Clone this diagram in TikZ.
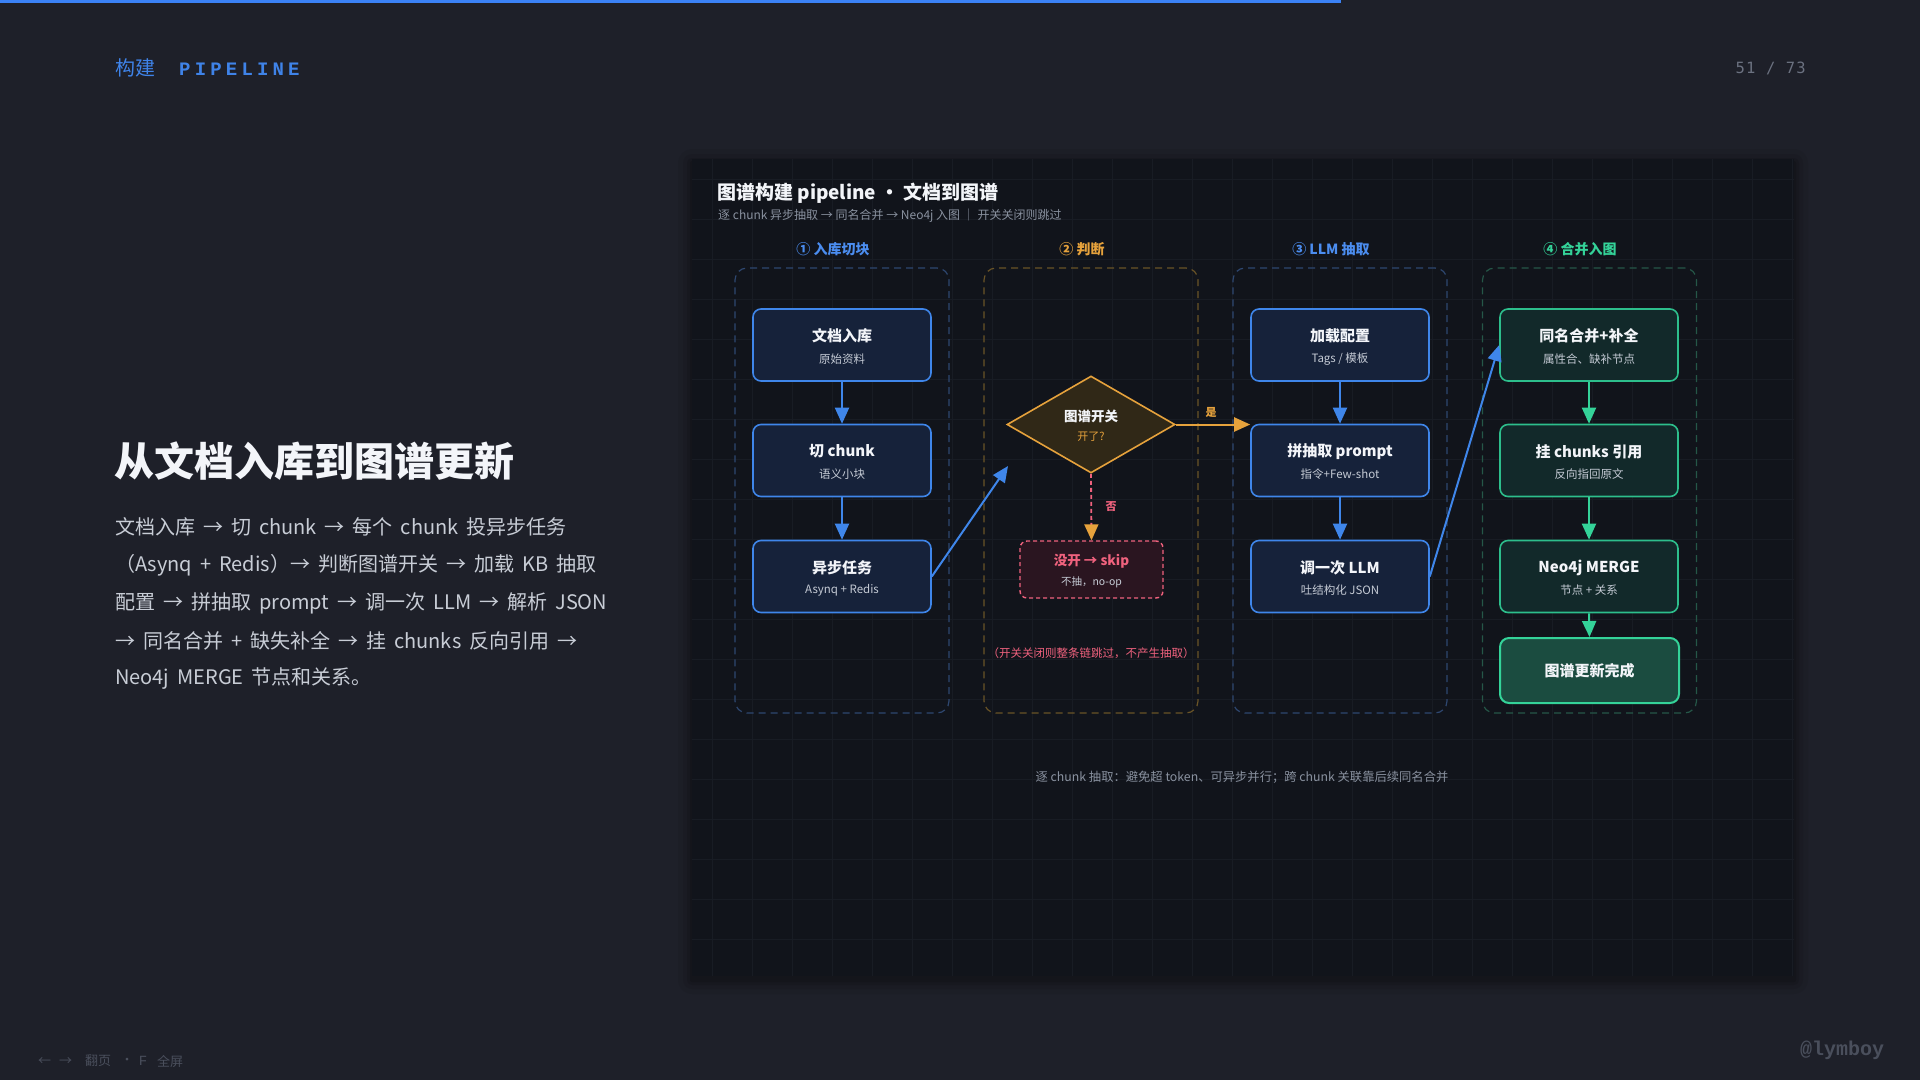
\documentclass[tikz,border=0pt]{standalone}
\usepackage{fontspec}
\setmainfont{Noto Sans CJK SC}
\newfontfamily\lmono{Liberation Mono}
\newfontfamily\spmono{Liberation Mono}[LetterSpace=22]
\newfontfamily\dmono{DejaVu Sans Mono}[LetterSpace=8]
\usetikzlibrary{arrows.meta,shapes.geometric,calc}

\definecolor{pagebg}{HTML}{1E2029}
\definecolor{panelbg}{HTML}{11141B}
\definecolor{gridc}{HTML}{181C24}
\definecolor{topbar}{HTML}{3B82F6}
\definecolor{hdrblue}{HTML}{3F83E8}
\definecolor{pgnum}{HTML}{6B7180}
\definecolor{footc}{HTML}{4A4F5C}
\definecolor{wtxt}{HTML}{F3F5F9}
\definecolor{bodytxt}{HTML}{C8CDD6}
\definecolor{subgray}{HTML}{8A92A0}
\definecolor{nsubc}{HTML}{C5CBD5}
\definecolor{blueacc}{HTML}{4B8DF0}
\definecolor{nodeblue}{HTML}{3F86EA}
\definecolor{bluefill}{HTML}{16223A}
\definecolor{grpblue}{HTML}{2E4770}
\definecolor{grporange}{HTML}{6A5427}
\definecolor{grpgreen}{HTML}{255748}
\definecolor{greenacc}{HTML}{34D399}
\definecolor{greenborder}{HTML}{2DBE8C}
\definecolor{greenfill}{HTML}{12292A}
\definecolor{finalfill}{HTML}{1B4C40}
\definecolor{orangeacc}{HTML}{E6A23C}
\definecolor{diafill}{HTML}{302817}
\definecolor{pinkacc}{HTML}{F0627E}
\definecolor{skipfill}{HTML}{2A1520}

\newcommand\fs[1]{\fontsize{#1}{#1}\selectfont}

\tikzset{
  grp/.style={draw=#1, dashed, dash pattern=on 7pt off 5pt, line width=1.2pt, rounded corners=12pt,
    minimum width=214pt, minimum height=445pt, inner sep=0pt},
  bluebox/.style={draw=nodeblue, fill=bluefill, line width=1.6pt, rounded corners=8pt,
    minimum width=178pt, minimum height=72pt, inner sep=0pt},
  greenbox/.style={draw=greenborder, fill=greenfill, line width=1.6pt, rounded corners=8pt,
    minimum width=178pt, minimum height=72pt, inner sep=0pt},
  finalbox/.style={draw=greenacc, fill=finalfill, line width=2pt, rounded corners=9pt,
    minimum width=179pt, minimum height=65pt, inner sep=0pt},
  ntitle/.style={text=wtxt, font=\fs{15}\bfseries, inner sep=0pt},
  nsub/.style={text=nsubc, font=\fs{11.5}, inner sep=0pt},
  colhead/.style={font=\fs{14}\bfseries, inner sep=0pt},
  barrow/.style={draw=nodeblue, line width=2pt, -{Triangle[length=16pt,width=14pt]}},
  garrow/.style={draw=greenacc, line width=2pt, -{Triangle[length=16pt,width=14pt]}},
  oarrow/.style={draw=orangeacc, line width=2pt, -{Triangle[length=16pt,width=14pt]}},
  bodyline/.style={anchor=west, text=bodytxt, font={\fs{20}\spaceskip=8pt plus 1pt}, inner sep=0pt},
}

\newcommand\flownode[6]{%
  \node[#2] (#1) at (#3,#4) {};
  \node[ntitle] (#1-t) at ([yshift=9pt]#1.center) {#5};
  \node[nsub] (#1-s) at ([yshift=-14pt]#1.center) {#6};
}

\begin{document}
\begin{tikzpicture}[x=1pt,y=-1pt]
\useasboundingbox (0,0) rectangle (1920,1080);
\fill[pagebg] (0,0) rectangle (1920,1080);
\fill[topbar] (0,0) rectangle (1341,3);

% header
\node[anchor=west, text=hdrblue, inner sep=0pt] (hdr) at (115,68)
  {{\fs{20}构建}\hspace{24pt}{\spmono\bfseries\fs{19}PIPELINE}};
\node[anchor=east, text=pgnum, inner sep=0pt] (pg) at (1806,68) {\dmono\fs{15.5}51 / 73};

% left column
\node[anchor=west, text=wtxt, font=\fs{40}\bfseries, inner sep=0pt] (lt) at (114,461) {从文档入库到图谱更新};
\node[bodyline] (b1) at (115,527) {文档入库 → 切 chunk → 每个 chunk 投异步任务};
\node[bodyline] (b2) at (115,565) {（Asynq + Redis）→ 判断图谱开关 → 加载 KB 抽取};
\node[bodyline] (b3) at (115,603) {配置 → 拼抽取 prompt → 调一次 LLM → 解析 JSON};
\node[bodyline] (b4) at (115,641) {→ 同名合并 + 缺失补全 → 挂 chunks 反向引用 →};
\node[bodyline] (b5) at (115,679) {Neo4j MERGE 节点和关系。};

% footer
\node[anchor=west, text=footc, font=\fs{13}, inner sep=0pt] (f1) at (38,1061) {←\hspace{8pt}→};
\node[anchor=west, text=footc, font=\fs{13}, inner sep=0pt] (f2) at (85,1061) {翻页};
\node[anchor=center, text=footc, font=\fs{13}, inner sep=0pt] (f3) at (127,1061) {·};
\node[anchor=center, text=footc, font=\lmono\fs{14}, inner sep=0pt] (f4) at (143,1061) {F};
\node[anchor=west, text=footc, font=\fs{13}, inner sep=0pt] (f5) at (157,1061) {全屏};
\node[anchor=center, text=footc, font=\lmono\bfseries\fs{20}, inner sep=0pt] (sig) at (1842,1050) {@lymboy};

% panel with soft shadow
\foreach \s/\o in {14/0.05,9/0.07,5/0.09,2/0.12}
  \fill[black, opacity=\o, rounded corners=\s pt] (692-\s,159-\s+4) rectangle (1794+\s,976+\s+4);
\fill[panelbg] (692,159) rectangle (1794,976);
\foreach \gx in {712,752,...,1792} \draw[gridc, line width=0.6pt] (\gx,159) -- (\gx,976);
\foreach \gy in {179,219,...,976} \draw[gridc, line width=0.6pt] (692,\gy) -- (1794,\gy);

\node[anchor=west, text=wtxt, font=\fs{19}\bfseries, inner sep=0pt] (ptitle) at (717,193) {图谱构建 pipeline · 文档到图谱};
\node[anchor=west, text=subgray, font=\fs{12}, inner sep=0pt] (psub) at (718,216) {逐 chunk 异步抽取 → 同名合并 → Neo4j 入图 ｜ 开关关闭则跳过};

% groups
\node[grp=grpblue] (g1) at (842,490.5) {};
\node[grp=grporange] (g2) at (1091,490.5) {};
\node[grp=grpblue] (g3) at (1340,490.5) {};
\node[grp=grpgreen] (g4) at (1589.5,490.5) {};

\node[colhead, text=blueacc] (h1) at (833,249) {① 入库切块};
\node[colhead, text=orangeacc] (h2) at (1082,249) {② 判断};
\node[colhead, text=blueacc] (h3) at (1331,249) {③ LLM 抽取};
\node[colhead, text=greenacc] (h4) at (1580,249) {④ 合并入图};

% column 1
\flownode{n1}{bluebox}{842}{345}{文档入库}{原始资料}
\flownode{n2}{bluebox}{842}{460.5}{切 chunk}{语义小块}
\flownode{n3}{bluebox}{842}{576.5}{异步任务}{Asynq + Redis}

% column 2
\node[diamond, draw=orangeacc, fill=diafill, line width=1.6pt, minimum width=168pt, minimum height=97pt, inner sep=0pt] (dia) at (1091,424.5) {};
\node[text=wtxt, font=\fs{13.5}\bfseries, inner sep=0pt] (dia-t) at ([yshift=8pt]dia.center) {图谱开关};
\node[text=orangeacc, font=\fs{11}, inner sep=0pt] (dia-s) at ([yshift=-12pt]dia.center) {开了?};

\node[draw=pinkacc, fill=skipfill, dashed, dash pattern=on 4pt off 3pt, line width=1.4pt, rounded corners=7pt,
  minimum width=143pt, minimum height=57pt, inner sep=0pt] (skip) at (1091.5,569.5) {};
\node[text=pinkacc, font=\fs{13.5}\bfseries, inner sep=0pt] (skip-t) at ([yshift=8.5pt]skip.center) {没开 → skip};
\node[text=nsubc, font=\fs{10.5}, inner sep=0pt] (skip-s) at ([yshift=-12.5pt]skip.center) {不抽，no-op};

\node[text=pinkacc, font=\fs{11.5}, inner sep=0pt] (note2) at (1091,653) {（开关关闭则整条链跳过，不产生抽取）};

% column 3
\flownode{p1}{bluebox}{1340}{345}{加载配置}{Tags / 模板}
\flownode{p2}{bluebox}{1340}{460.5}{拼抽取 prompt}{指令+Few-shot}
\flownode{p3}{bluebox}{1340}{576.5}{调一次 LLM}{吐结构化 JSON}

% column 4
\flownode{m1}{greenbox}{1589}{345}{同名合并+补全}{属性合、缺补节点}
\flownode{m2}{greenbox}{1589}{460.5}{挂 chunks 引用}{反向指回原文}
\flownode{m3}{greenbox}{1589}{576.5}{Neo4j MERGE}{节点 + 关系}
\node[finalbox] (m4) at (1589.5,670.5) {};
\node[ntitle] (m4-t) at (m4.center) {图谱更新完成};

% connectors
\draw[barrow] (n1.south) -- (n2.north);
\draw[barrow] (n2.south) -- (n3.north);
\coordinate (diain) at (1008,466);
\draw[barrow] (n3.east) -- (diain);
\draw[oarrow] (dia.east) -- (dia.east -| p2.west);
\node[text=orangeacc, font=\fs{11}\bfseries, inner sep=0pt] (yes) at (1211,412) {是};
\draw[draw=pinkacc, line width=1.8pt, dashed, dash pattern=on 4pt off 3pt,
  -{Triangle[length=16pt,width=14pt,color=orangeacc]}] (dia.south) -- (skip.north);
\node[text=pinkacc, font=\fs{11}\bfseries, inner sep=0pt] (no) at (1111,507) {否};
\draw[barrow] (p1.south) -- (p2.north);
\draw[barrow] (p2.south) -- (p3.north);
\draw[barrow] (p3.east) -- (m1.west);
\draw[garrow] (m1.south) -- (m2.north);
\draw[garrow] (m2.south) -- (m3.north);
\draw[garrow] (m3.south) -- (m4.north);

\node[text=subgray, font=\fs{12.3}, inner sep=0pt] (bnote) at (1242,777) {逐 chunk 抽取：避免超 token、可异步并行；跨 chunk 关联靠后续同名合并};
\end{tikzpicture}
\end{document}
